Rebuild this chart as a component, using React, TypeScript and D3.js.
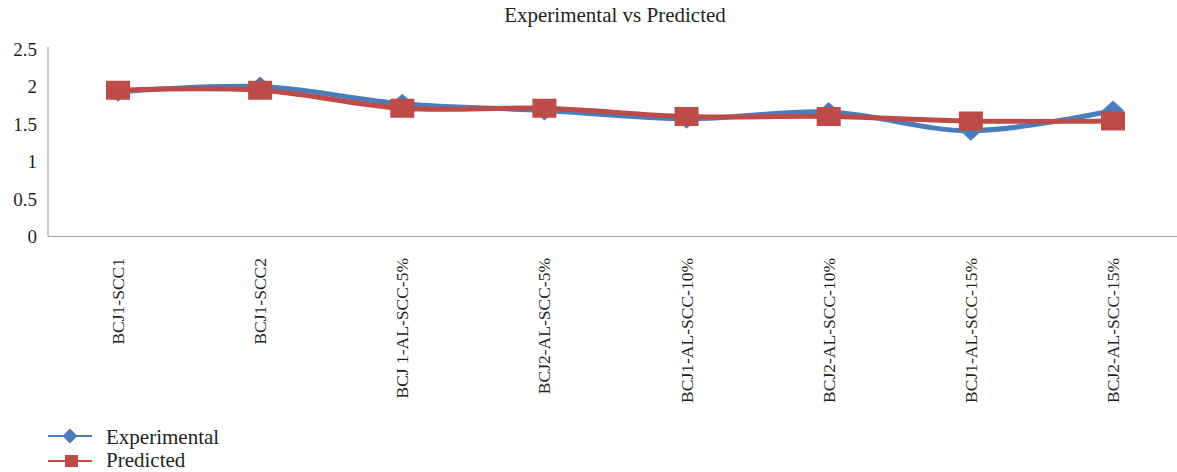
import React from "react";
import * as d3 from "d3";

const categories = [
  "BCJ1-SCC1",
  "BCJ1-SCC2",
  "BCJ 1-AL-SCC-5%",
  "BCJ2-AL-SCC-5%",
  "BCJ1-AL-SCC-10%",
  "BCJ2-AL-SCC-10%",
  "BCJ1-AL-SCC-15%",
  "BCJ2-AL-SCC-15%",
];
const experimental = [1.93, 2.0, 1.77, 1.68, 1.57, 1.66, 1.41, 1.68];
const predicted = [1.95, 1.95, 1.71, 1.71, 1.6, 1.6, 1.54, 1.54];
const yTicks = [0, 0.5, 1, 1.5, 2, 2.5];

const W = 1177;
const H = 472;
const BLUE = "#4a7ebb";
const RED = "#be4b48";
const FONT = "'Liberation Serif', 'Times New Roman', serif";

export default function App() {
  const x = d3.scalePoint<string>().domain(categories).range([118, 1113]);
  const y = d3.scaleLinear().domain([0, 2.5]).range([236.5, 49]);
  const line = d3
    .line<number>()
    .x((_, i) => x(categories[i])!)
    .y((d) => y(d))
    .curve(d3.curveCatmullRom.alpha(0.5));

  const diamond = (cx: number, cy: number, w: number, h: number) =>
    `M${cx},${cy - h / 2}L${cx + w / 2},${cy}L${cx},${cy + h / 2}L${cx - w / 2},${cy}Z`;

  return (
    <svg
      width={W}
      height={H}
      style={{ position: "fixed", left: 0, top: 0, background: "#fff" }}
      fontFamily={FONT}
    >
      <rect width={W} height={H} fill="#fff" />
      <text x={615} y={22} textAnchor="middle" fontSize={21} fill="#231f20">
        Experimental vs Predicted
      </text>
      {/* axes */}
      <line x1={48} x2={48} y1={47} y2={y(0)} stroke="#a6a6a6" strokeWidth={1.2} />
      <line x1={48} x2={W} y1={y(0)} y2={y(0)} stroke="#a6a6a6" strokeWidth={1.2} />
      {yTicks.map((t) => (
        <text
          key={t}
          x={37}
          y={y(t)}
          dy="0.35em"
          textAnchor="end"
          fontSize={19}
          fill="#231f20"
        >
          {String(t)}
        </text>
      ))}
      {categories.map((c) => {
        const cx = x(c)! + 6;
        return (
          <text
            key={c}
            transform={`translate(${cx},258) rotate(-90)`}
            textAnchor="end"
            fontSize={17.5}
            fill="#231f20"
          >
            {c}
          </text>
        );
      })}
      {/* experimental */}
      <path d={line(experimental)!} fill="none" stroke={BLUE} strokeWidth={5} />
      {experimental.map((v, i) => (
        <path key={i} d={diamond(x(categories[i])!, y(v), 22, 20)} fill={BLUE} />
      ))}
      {/* predicted */}
      <path d={line(predicted)!} fill="none" stroke={RED} strokeWidth={5} />
      {predicted.map((v, i) => (
        <rect
          key={i}
          x={x(categories[i])! - 12}
          y={y(v) - 9.5}
          width={24}
          height={19}
          fill={RED}
        />
      ))}
      {/* legend */}
      <line x1={48} x2={92} y1={436} y2={436} stroke={BLUE} strokeWidth={2} />
      <path d={diamond(70, 436, 15, 15)} fill={BLUE} />
      <text x={106} y={444} fontSize={21} fill="#231f20">
        Experimental
      </text>
      <line x1={48} x2={92} y1={461} y2={461} stroke={RED} strokeWidth={2} />
      <rect x={65} y={455} width={13} height={12} fill={RED} />
      <text x={106} y={467} fontSize={21} fill="#231f20">
        Predicted
      </text>
    </svg>
  );
}
